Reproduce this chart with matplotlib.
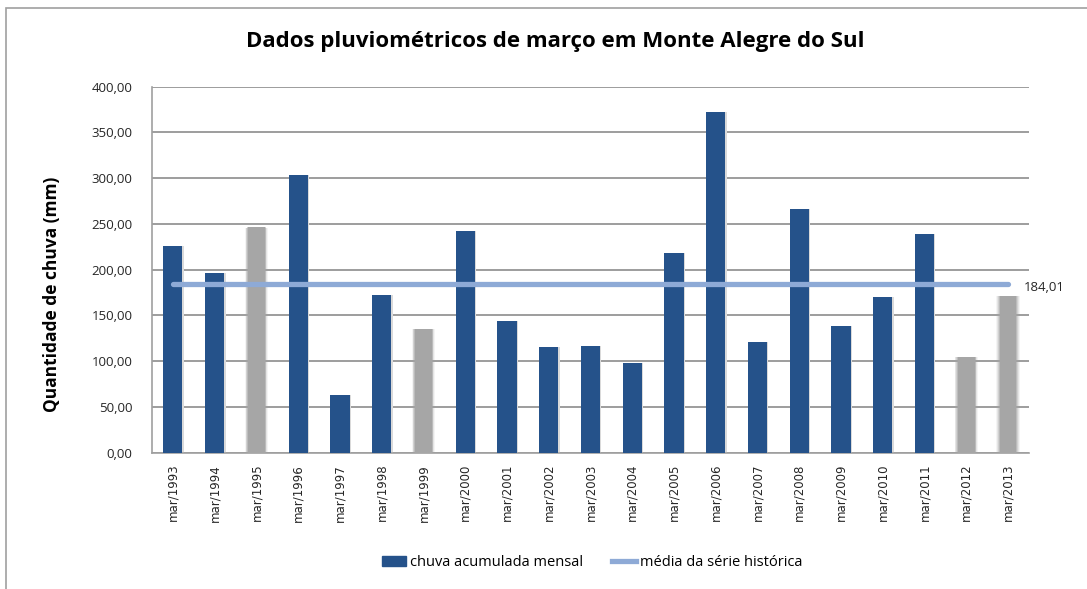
"""Chuva de março em Monte Alegre do Sul"""

import numpy as np
import matplotlib.pyplot as plt
from matplotlib.patches import Rectangle
from matplotlib.lines import Line2D

anos = ['mar/1993', 'mar/1994', 'mar/1995', 'mar/1996', 'mar/1997',
        'mar/1998', 'mar/1999', 'mar/2000', 'mar/2001', 'mar/2002',
        'mar/2003', 'mar/2004', 'mar/2005', 'mar/2006', 'mar/2007',
        'mar/2008', 'mar/2009', 'mar/2010', 'mar/2011', 'mar/2012',
        'mar/2013']
chuva = [225.9, 196.4, 245.9, 303.5, 63.0, 172.3, 134.8, 242.3, 143.9,
         115.5, 116.6, 98.0, 218.2, 372.3, 121.0, 266.3, 138.4, 170.1,
         239.0, 104.2, 171.2]
# anos com dado incompleto (barras cinza desfocadas)
incompleto = ['mar/1995', 'mar/1999', 'mar/2012', 'mar/2013']
media = 184.01
yticks = [0, 50, 100, 150, 200, 250, 300, 350, 400]

azul = '#25528a'
cinza = '#a6a6a6'
linha = '#8eaad6'

fig = plt.figure(figsize=(10.87, 5.89), dpi=100)
fig.patches.append(Rectangle((6 / 1087, -0.1), 1.1, 1.1 - 8 / 589,
                             transform=fig.transFigure, fill=False,
                             edgecolor='#a0a0a0', lw=1.2))
ax = fig.add_axes([152 / 1087, 136.3 / 589, 877 / 1087, 366 / 589])

x = np.arange(len(anos))
cor = np.array([a in incompleto for a in anos])
vals = np.array(chuva)

# sombra leve nas barras azuis
ax.bar(x[~cor] + 0.03, vals[~cor], width=0.46, color='#dadada', zorder=2)
ax.bar(x[~cor], vals[~cor], width=0.46, color=azul, zorder=3)

# barras cinza com borda desfocada
for w, a in [(0.56, 0.12), (0.52, 0.2), (0.48, 0.3), (0.44, 0.5), (0.40, 1.0)]:
    ax.bar(x[cor], vals[cor] + (0.56 - w) * 2, width=w, color=cinza,
           alpha=a, lw=0, zorder=3)

ax.plot(x, [media] * len(x), color=linha, lw=3.8, solid_capstyle='round',
        zorder=4)
ax.annotate(f'{media:.2f}'.replace('.', ','), (x[-1], media),
            xytext=(11, -2), textcoords='offset points', va='center',
            ha='left', fontsize=9.5, family='Open Sans', color='#262626')

ax.set_xlim(-0.5, len(anos) - 0.5)
ax.set_ylim(0, 400)
ax.set_yticks(yticks)
ax.set_yticklabels([f'{v:.2f}'.replace('.', ',') for v in yticks],
                   family='Open Sans', fontsize=9.5, color='#262626')
ax.set_xticks(x)
ax.set_xticklabels(anos, rotation=90, fontsize=8.5, family='DejaVu Sans',
                   color='#262626')
ax.tick_params(length=0, pad=8)
ax.tick_params(axis='y', pad=14)
ax.yaxis.grid(True, color='#8c8c8c', lw=1.2, zorder=0)
ax.set_axisbelow(True)
for s in ['top', 'right']:
    ax.spines[s].set_visible(False)
for s in ['left', 'bottom']:
    ax.spines[s].set_color('#a0a0a0')
    ax.spines[s].set_linewidth(1.2)

ax.set_ylabel('Quantidade de chuva (mm)', fontsize=12.5, fontweight='bold',
              family='Open Sans')
ax.yaxis.set_label_coords(-0.104, 0.434)
fig.text(0.511, 0.930, 'Dados pluviométricos de março em Monte Alegre do Sul',
         ha='center', va='center', fontsize=16, fontweight='bold',
         family='Open Sans')

handles = [Rectangle((0, 0), 1, 1, color=azul),
           Line2D([], [], color=linha, lw=3.8)]
fig.legend(handles, ['chuva acumulada mensal', 'média da série histórica'],
           loc='center', bbox_to_anchor=(0.545, 0.045), ncol=2, frameon=False,
           prop={'family': 'Open Sans', 'size': 10.5}, handlelength=1.6,
           handletextpad=0.3, columnspacing=2.0)

fig.savefig('out.png', dpi=100)
